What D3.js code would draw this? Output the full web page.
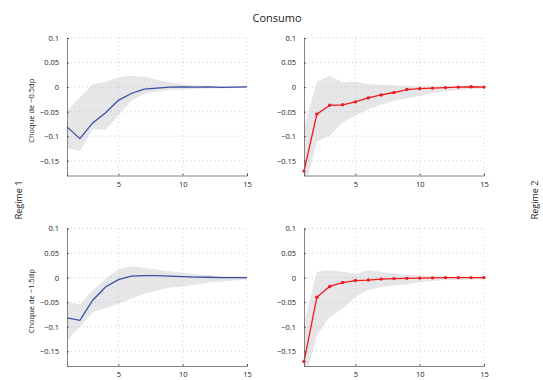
<!DOCTYPE html>
<html>
<head>
<meta charset="utf-8">
<script src="https://cdn.jsdelivr.net/npm/d3@7"></script>
<style>
  body { margin: 0; background: #fff; }
  text { font-family: "Open Sans", sans-serif; fill: #222; }
</style>
</head>
<body>
<div id="chart"></div>
<script>
var width = 543, height = 380;

var periods = d3.range(1, 16);
var yTicks = [0.1, 0.05, 0, -0.05, -0.1, -0.15];
var xTicks = [5, 10, 15];

// regime 1, shock -0.5dp
var r1s1 = [-0.081, -0.105, -0.073, -0.052, -0.027, -0.013, -0.004, -0.002, 0, 0.0005, 0, 0.0005, -0.0005, 0, 0.0005];
var r1s1Up = [-0.048, -0.021, 0.006, 0.011, 0.02, 0.023, 0.021, 0.015, 0.01, 0.006, 0.004, 0.003, 0.002, 0.001, 0.001];
var r1s1Lo = [-0.124, -0.13, -0.086, -0.087, -0.058, -0.028, -0.014, -0.009, -0.006, -0.005, -0.004, -0.003, -0.003, -0.002, -0.002];

// regime 2, shock -0.5dp
var r2s1 = [-0.171, -0.055, -0.037, -0.036, -0.030, -0.022, -0.016, -0.011, -0.005, -0.003, -0.002, -0.001, 0, 0.0007, 0];
var r2s1Up = [-0.082, 0.011, 0.023, 0.01, 0.011, 0.006, 0.005, 0.004, 0.003, 0.002, 0.001, 0.001, 0.001, 0.001, 0.001];
var r2s1Lo = [-0.215, -0.11, -0.099, -0.072, -0.058, -0.045, -0.036, -0.028, -0.023, -0.018, -0.012, -0.009, -0.006, -0.004, -0.003];

// regime 1, shock -1.5dp
var r1s2 = [-0.082, -0.087, -0.046, -0.019, -0.004, 0.003, 0.004, 0.004, 0.003, 0.002, 0.001, 0.0007, 0, 0, 0];
var r1s2Up = [-0.05, -0.055, -0.026, -0.002, 0.017, 0.023, 0.02, 0.016, 0.013, 0.01, 0.007, 0.005, 0.003, 0.003, 0.002];
var r1s2Lo = [-0.128, -0.1, -0.07, -0.062, -0.053, -0.043, -0.033, -0.026, -0.02, -0.018, -0.014, -0.01, -0.008, -0.006, -0.004];

// regime 2, shock -1.5dp
var r2s2 = [-0.171, -0.04, -0.018, -0.010, -0.006, -0.005, -0.003, -0.002, -0.0015, -0.001, -0.0005, 0, 0, 0, 0];
var r2s2Up = [-0.094, 0.012, 0.015, 0.012, 0.008, 0.015, 0.012, 0.008, 0.006, 0.005, 0.003, 0.002, 0.002, 0.002, 0.002];
var r2s2Lo = [-0.215, -0.118, -0.08, -0.063, -0.04, -0.025, -0.019, -0.016, -0.014, -0.009, -0.007, -0.005, -0.005, -0.004, -0.004];

var panels = [
  { x0: 67, x1: 247, y0: 38, y1: 175.5, mid: r1s1, up: r1s1Up, lo: r1s1Lo, color: "#3a4fa3", dots: false, ylabel: "Choque de \u22120.5dp" },
  { x0: 304, x1: 484, y0: 38, y1: 175.5, mid: r2s1, up: r2s1Up, lo: r2s1Lo, color: "#f0191e", dots: true, ylabel: null },
  { x0: 67, x1: 247, y0: 228.5, y1: 366, mid: r1s2, up: r1s2Up, lo: r1s2Lo, color: "#3a4fa3", dots: false, ylabel: "Choque de \u22121.5dp" },
  { x0: 304, x1: 484, y0: 228.5, y1: 366, mid: r2s2, up: r2s2Up, lo: r2s2Lo, color: "#f0191e", dots: true, ylabel: null }
];

var svg = d3.select("#chart").append("svg").attr("width", width).attr("height", height);

var fmt = function(d) { return d === 0 ? "0" : d3.format("")(d).replace("-", "\u2212"); };

panels.forEach(function(p, i) {
  var x = d3.scaleLinear().domain([1, 15]).range([p.x0, p.x1]);
  var y = d3.scaleLinear().domain([-0.18, 0.1]).range([p.y1, p.y0]);

  svg.append("clipPath").attr("id", "clip" + i)
    .append("rect").attr("x", p.x0).attr("y", p.y0).attr("width", p.x1 - p.x0).attr("height", p.y1 - p.y0);

  var g = svg.append("g");

  // confidence band
  var area = d3.area()
    .x(function(d, j) { return x(periods[j]); })
    .y0(function(d, j) { return y(p.lo[j]); })
    .y1(function(d, j) { return y(p.up[j]); });
  g.append("path").datum(p.mid).attr("d", area)
    .attr("fill", "#e6e6e9").attr("clip-path", "url(#clip" + i + ")");

  // dotted grid
  g.selectAll(".gy").data(yTicks).enter().append("line")
    .attr("x1", p.x0).attr("x2", p.x1)
    .attr("y1", function(d) { return y(d); }).attr("y2", function(d) { return y(d); })
    .attr("stroke", "#bbb").attr("stroke-width", 0.7).attr("stroke-dasharray", "1,3");
  g.selectAll(".gx").data(xTicks).enter().append("line")
    .attr("x1", function(d) { return x(d); }).attr("x2", function(d) { return x(d); })
    .attr("y1", p.y0).attr("y2", p.y1)
    .attr("stroke", "#bbb").attr("stroke-width", 0.7).attr("stroke-dasharray", "1,3");

  // axes
  var yAxis = d3.axisLeft(y).tickValues(yTicks).tickSize(-2).tickPadding(8).tickFormat(fmt);
  var xAxis = d3.axisBottom(x).tickValues(xTicks).tickSize(-2).tickPadding(6);
  var ya = svg.append("g").attr("transform", "translate(" + p.x0 + ",0)").call(yAxis);
  var xa = svg.append("g").attr("transform", "translate(0," + p.y1 + ")").call(xAxis);
  [ya, xa].forEach(function(a) {
    a.select(".domain").attr("stroke", "#666").attr("stroke-width", 0.8);
    a.selectAll(".tick line").attr("stroke", "#444").attr("stroke-width", 0.8);
    a.selectAll("text").attr("font-size", 7.5).attr("fill", "#222").style("font-family", "'Open Sans', sans-serif");
  });

  // response line
  var line = d3.line()
    .x(function(d, j) { return x(periods[j]); })
    .y(function(d) { return y(d); });
  g.append("path").datum(p.mid).attr("d", line)
    .attr("fill", "none").attr("stroke", p.color).attr("stroke-width", 1.3);

  if (p.dots) {
    g.selectAll(".dot").data(p.mid).enter().append("circle")
      .attr("cx", function(d, j) { return x(periods[j]); })
      .attr("cy", function(d) { return y(d); })
      .attr("r", 1.7).attr("fill", p.color);
  }

  if (p.ylabel) {
    svg.append("text")
      .attr("transform", "translate(34," + ((p.y0 + p.y1) / 2 + 4) + ") rotate(-90)")
      .attr("text-anchor", "middle").attr("font-size", 7.5)
      .text(p.ylabel);
  }
});

svg.append("text").attr("x", 277).attr("y", 22).attr("text-anchor", "middle")
  .attr("font-size", 11).text("Consumo");

svg.append("text").attr("transform", "translate(22,200) rotate(-90)")
  .attr("text-anchor", "middle").attr("font-size", 9).text("Regime 1");
svg.append("text").attr("transform", "translate(538,200) rotate(-90)")
  .attr("text-anchor", "middle").attr("font-size", 9).text("Regime 2");
</script>
</body>
</html>
